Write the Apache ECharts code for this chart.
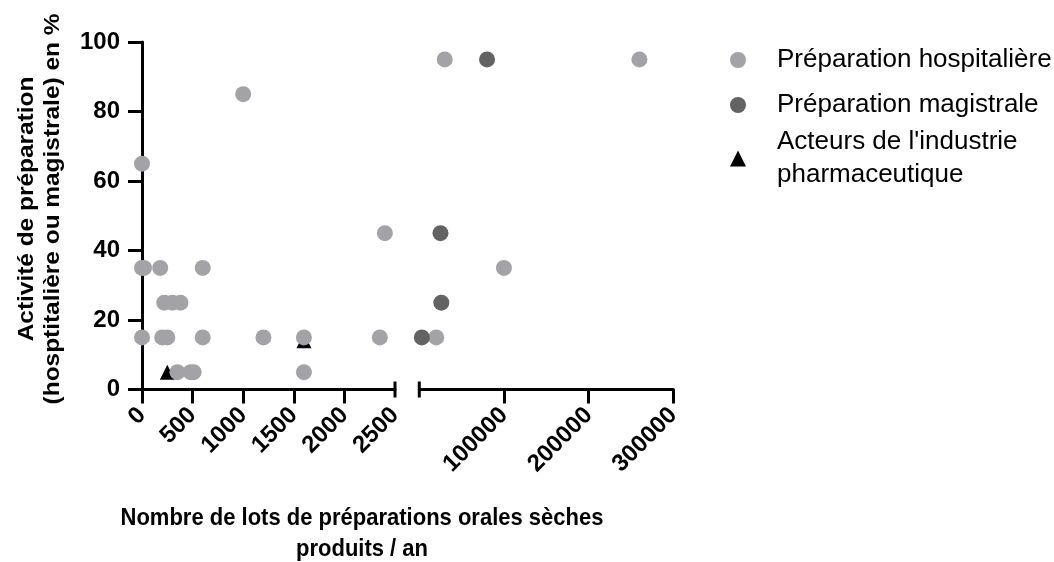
<!DOCTYPE html>
<html>
<head>
<meta charset="utf-8">
<script src="https://cdn.jsdelivr.net/npm/echarts@6/dist/echarts.min.js"></script>
<style>
  html, body { margin: 0; padding: 0; background: #ffffff; }
  #chart { width: 1054px; height: 562px; }
</style>
</head>
<body>
<div id="chart"></div>
<script>
// Préparations orales sèches : nombre de lots / an vs part de l'activité de préparation (%)
const seriesNames = ['Préparation hospitalière', 'Préparation magistrale', "Acteurs de l'industrie\npharmaceutique"];

const hospX = [0, 1000, 0, 20, 180, 600, 2400, 220, 300, 380, 0, 200, 250, 600, 1200, 1600, 2350, 350, 480, 510, 1600,
               30000, 260000, 100000, 20000];
const hospY = [65, 85, 35, 35, 35, 35, 45, 25, 25, 25, 15, 15, 15, 15, 15, 15, 15, 5, 5, 5, 5,
               95, 95, 35, 15];

const magX = [80000, 25000, 26000, 3000];
const magY = [95, 45, 25, 15];

const indX = [250, 1600];
const indY = [5, 14];

// Axis break: left segment 0–2500, right segment up to 300000
const breakAt = 2500;
const leftTicks = [0, 500, 1000, 1500, 2000, 2500];
const rightTicks = [100000, 200000, 300000];
const yTicks = [0, 20, 40, 60, 80, 100];

const FONT = "'Liberation Sans', Arial, Helvetica, sans-serif";
const LIGHT = '#a3a3a7';
const DARK = '#636363';

function pairs(xs, ys, test) {
  const out = [];
  for (let i = 0; i < xs.length; i++) if (test(xs[i])) out.push([xs[i], ys[i]]);
  return out;
}
const inLeft = x => x <= breakAt;
const inRight = x => x > breakAt;
const plain = v => String(v);

const axisLineStyle = { color: '#000', width: 3 };
function tickLabel(size) {
  return { color: '#000', fontFamily: FONT, fontWeight: 'bold', fontSize: size, formatter: plain };
}

const chart = echarts.init(document.getElementById('chart'), null, { renderer: 'canvas' });

function scatter(name, xi, data, color, symbol, size) {
  return {
    name: name, type: 'scatter', xAxisIndex: xi, yAxisIndex: xi,
    data: data, symbol: symbol, symbolSize: size,
    itemStyle: { color: color, opacity: 1 },
    emphasis: { disabled: true }, z: symbol === 'triangle' ? 2 : 3
  };
}

function legendFor(i, top, icon, color) {
  return {
    data: [{ name: seriesNames[i], icon: icon, itemStyle: { color: color } }],
    orient: 'vertical', left: 730, top: top, padding: 0,
    itemWidth: 16, itemHeight: 16,
    textStyle: { fontFamily: FONT, fontSize: 26, color: '#000', lineHeight: 33, padding: [0, 0, 0, 26] }
  };
}

chart.setOption({
  animation: false,
  backgroundColor: '#ffffff',
  grid: [
    { left: 142, top: 42, width: 253, height: 347.5 },
    { left: 419.3, top: 42, width: 254, height: 347.5 }
  ],
  xAxis: [
    {
      gridIndex: 0, type: 'value', min: 0, max: leftTicks[leftTicks.length - 1], interval: 500,
      axisLine: { show: true, onZero: false, lineStyle: axisLineStyle },
      axisTick: { show: true, length: 14, lineStyle: { color: '#000', width: 3 }, customValues: leftTicks.slice(0, -1) },
      axisLabel: Object.assign({ rotate: 45, margin: 22, customValues: leftTicks }, tickLabel(24)),
      splitLine: { show: false }
    },
    {
      gridIndex: 1, type: 'value', min: 0, max: rightTicks[rightTicks.length - 1], interval: 100000,
      axisLine: { show: true, onZero: false, lineStyle: axisLineStyle },
      axisTick: { show: true, length: 14, lineStyle: { color: '#000', width: 3 }, customValues: rightTicks },
      axisLabel: Object.assign({ rotate: 45, margin: 22, customValues: rightTicks }, tickLabel(24)),
      splitLine: { show: false }
    }
  ],
  yAxis: [
    {
      gridIndex: 0, type: 'value', min: 0, max: 100, interval: 20,
      axisLine: { show: true, onZero: false, lineStyle: axisLineStyle },
      axisTick: { show: true, length: 14, lineStyle: { color: '#000', width: 3 }, customValues: yTicks },
      axisLabel: Object.assign({ margin: 22, customValues: yTicks }, tickLabel(24)),
      splitLine: { show: false }
    },
    { gridIndex: 1, type: 'value', min: 0, max: 100, interval: 20, show: false, splitLine: { show: false } }
  ],
  legend: [
    legendFor(0, 43.5, 'circle', LIGHT),
    legendFor(1, 88.5, 'circle', DARK),
    legendFor(2, 125.5, 'triangle', '#000')
  ],
  series: [
    scatter(seriesNames[0], 0, pairs(hospX, hospY, inLeft), LIGHT, 'circle', 16),
    scatter(seriesNames[1], 0, pairs(magX, magY, inLeft), DARK, 'circle', 16),
    scatter(seriesNames[2], 0, pairs(indX, indY, inLeft), '#000', 'triangle', 15),
    scatter(seriesNames[0], 1, pairs(hospX, hospY, inRight), LIGHT, 'circle', 16),
    scatter(seriesNames[1], 1, pairs(magX, magY, inRight), DARK, 'circle', 16),
    scatter(seriesNames[2], 1, pairs(indX, indY, inRight), '#000', 'triangle', 15)
  ]
});

// Break marks at the end of the left segment and start of the right one, plus axis titles
const endLeft = chart.convertToPixel({ gridIndex: 0 }, [breakAt, 0]);
const startRight = chart.convertToPixel({ gridIndex: 1 }, [0, 0]);
const barHalf = 8;
function bar(p) {
  return {
    type: 'line', silent: true, z: 10,
    shape: { x1: p[0], y1: p[1] - barHalf, x2: p[0], y2: p[1] + barHalf },
    style: { stroke: '#000', lineWidth: 3 }
  };
}

chart.setOption({
  graphic: [
    bar(endLeft),
    bar(startRight),
    {
      type: 'text', silent: true, x: 40, y: 209, rotation: Math.PI / 2, scaleX: 1.11,
      style: {
        text: 'Activité de préparation\n(hosptitalière ou magistrale) en %',
        font: 'bold 22px ' + FONT, fill: '#000', align: 'center', verticalAlign: 'middle', lineHeight: 26
      }
    },
    {
      type: 'text', silent: true, x: 362, y: 534, scaleY: 1.12,
      style: {
        text: 'Nombre de lots de préparations orales sèches\nproduits / an',
        font: 'bold 22px ' + FONT, fill: '#000', align: 'center', verticalAlign: 'middle', lineHeight: 28
      }
    }
  ]
});
</script>
</body>
</html>
